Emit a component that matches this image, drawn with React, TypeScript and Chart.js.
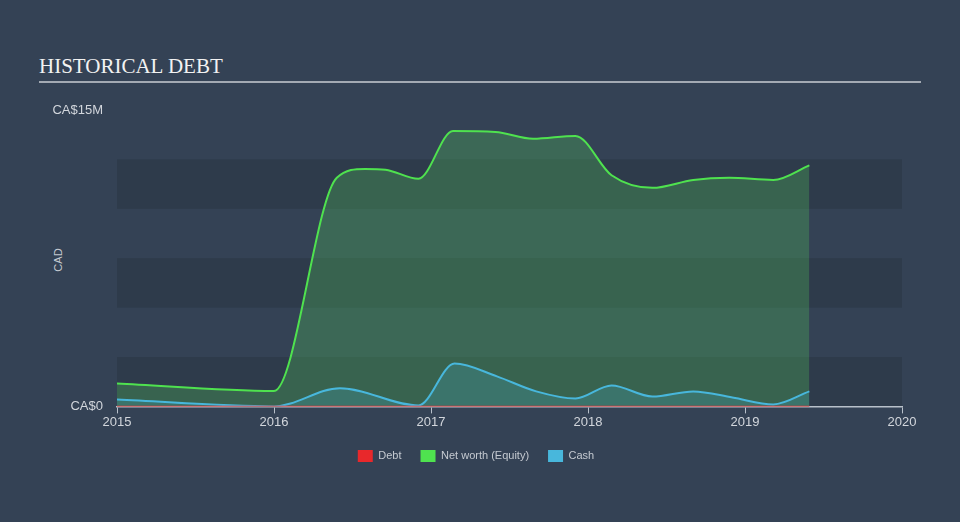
import React, { useEffect, useRef } from 'react';
import { Chart, registerables } from 'chart.js';

Chart.register(...registerables);

// ---- data (values in CA$ millions, x in fractional years) ----
const seriesNames = ['Debt', 'Net worth (Equity)', 'Cash'];

const debtYears = [2015.0, 2016.0, 2016.4, 2016.92, 2017.14, 2017.42, 2017.65, 2017.92, 2018.15, 2018.41, 2018.67, 2018.9, 2019.18, 2019.41];
const debtValues = [0, 0, 0, 0, 0, 0, 0, 0, 0, 0, 0, 0, 0, 0];

const equityYears = [2015.0, 2016.0, 2016.4, 2016.58, 2016.71, 2016.92, 2017.14, 2017.41, 2017.65, 2017.92, 2018.15, 2018.41, 2018.67, 2018.9, 2019.18, 2019.41];
const equityValues = [1.16, 0.78, 11.57, 12.02, 11.98, 11.52, 13.94, 13.89, 13.54, 13.69, 11.7, 11.06, 11.46, 11.57, 11.46, 12.2];

const cashYears = [2015.0, 2016.0, 2016.42, 2016.92, 2017.15, 2017.42, 2017.67, 2017.92, 2018.15, 2018.41, 2018.67, 2018.92, 2019.18, 2019.41];
const cashValues = [0.35, 0.0, 0.92, 0.05, 2.17, 1.52, 0.76, 0.4, 1.06, 0.5, 0.76, 0.45, 0.1, 0.76];

const xTickValues = [2015, 2016, 2017, 2018, 2019, 2020];
const yTickValues = [0, 15];
const yTickLabels = ['CA$0', 'CA$15M'];
const bandRanges = [[0, 2.5], [5, 7.5], [10, 12.5]];

// ---- styles ----
const PAGE_BG = '#344255';
const BAND_BG = '#2e3b4b';
const DEBT_COLOR = '#e8282b';
const EQUITY_COLOR = '#4fe24f';
const CASH_COLOR = '#48b7dc';
const TEXT_COLOR = '#d2d6dc';
const AXIS_COLOR = '#b8c0ca';
const legendColors = [DEBT_COLOR, EQUITY_COLOR, CASH_COLOR];

const toPoints = (xs: number[], ys: number[]) => xs.map((x, i) => ({ x, y: ys[i] }));

const bandPlugin = {
  id: 'bands',
  beforeDraw(chart: any) {
    const { ctx, chartArea, scales } = chart;
    const y = scales.y;
    ctx.save();
    ctx.fillStyle = BAND_BG;
    bandRanges.forEach(([a, b]) => {
      const top = y.getPixelForValue(b);
      const bottom = y.getPixelForValue(a);
      ctx.fillRect(chartArea.left, top, chartArea.right - chartArea.left, bottom - top);
    });
    ctx.restore();
  },
};

export default function App() {
  const ref = useRef<HTMLCanvasElement>(null);

  useEffect(() => {
    document.body.style.margin = '0';
    Chart.defaults.font.family = '"Liberation Sans", Arial, sans-serif';
    const chart = new Chart(ref.current as HTMLCanvasElement, {
      type: 'line',
      data: {
        datasets: [
          {
            label: seriesNames[0],
            data: toPoints(debtYears, debtValues),
            borderColor: DEBT_COLOR,
            backgroundColor: DEBT_COLOR,
            borderWidth: 1.5,
            fill: false,
            order: 0,
          },
          {
            label: seriesNames[1],
            data: toPoints(equityYears, equityValues),
            borderColor: EQUITY_COLOR,
            backgroundColor: 'rgba(79,192,88,0.3)',
            borderWidth: 2,
            fill: 'origin',
            order: 2,
          },
          {
            label: seriesNames[2],
            data: toPoints(cashYears, cashValues),
            borderColor: CASH_COLOR,
            backgroundColor: 'rgba(75,185,221,0.2)',
            borderWidth: 2,
            fill: 'origin',
            order: 1,
          },
        ],
      },
      options: {
        animation: false,
        responsive: false,
        maintainAspectRatio: false,
        layout: { padding: { left: 50, right: 58, top: 110, bottom: 50 } },
        elements: {
          point: { radius: 0, hoverRadius: 0 },
          line: { cubicInterpolationMode: 'monotone' },
        },
        plugins: {
          tooltip: { enabled: false },
          legend: {
            position: 'bottom',
            labels: {
              boxWidth: 15,
              boxHeight: 12,
              padding: 19,
              color: '#c5cad1',
              font: { size: 11 },
              sort: (a: any, b: any) => a.datasetIndex - b.datasetIndex,
              generateLabels: (chart: any) => {
                const items = Chart.defaults.plugins.legend.labels.generateLabels(chart);
                return items.map((it: any) => ({
                  ...it,
                  fillStyle: legendColors[it.datasetIndex],
                  strokeStyle: legendColors[it.datasetIndex],
                  lineWidth: 0,
                }));
              },
            },
          },
        },
        scales: {
          x: {
            type: 'linear',
            min: 2015,
            max: 2020,
            afterBuildTicks: (s: any) => {
              s.ticks = xTickValues.map((v) => ({ value: v }));
            },
            ticks: {
              callback: (v: any) => String(v),
              color: TEXT_COLOR,
              font: { size: 13 },
              padding: 1,
              maxRotation: 0,
              autoSkip: false,
            },
            grid: {
              display: true,
              drawOnChartArea: false,
              drawTicks: true,
              tickLength: 7,
              color: AXIS_COLOR,
              lineWidth: 1,
            },
            border: { display: true, color: AXIS_COLOR, width: 1.5 },
          },
          y: {
            type: 'linear',
            min: 0,
            max: 15,
            afterBuildTicks: (s: any) => {
              s.ticks = yTickValues.map((v) => ({ value: v }));
            },
            afterFit: (s: any) => {
              s.width = 67;
            },
            ticks: {
              callback: (v: any) => {
                const i = yTickValues.indexOf(Number(v));
                return i >= 0 ? yTickLabels[i] : '';
              },
              color: TEXT_COLOR,
              font: { size: 13 },
              padding: 14,
              autoSkip: false,
            },
            grid: { display: false, drawTicks: false },
            border: { display: false },
          },
        },
      },
      plugins: [bandPlugin],
    } as any);
    return () => chart.destroy();
  }, []);

  return (
    <div style={{ position: 'relative', width: 960, height: 522, background: PAGE_BG, overflow: 'hidden' }}>
      <div
        style={{
          position: 'absolute',
          left: 39,
          top: 56,
          fontFamily: '"Liberation Serif", "Times New Roman", serif',
          fontSize: 21,
          lineHeight: '21px',
          color: '#f2f2f2',
          whiteSpace: 'nowrap',
        }}
      >
        HISTORICAL DEBT
      </div>
      <div style={{ position: 'absolute', left: 39, top: 81, width: 882, height: 2, background: '#a3aab3' }} />
      <div
        style={{
          position: 'absolute',
          left: 28,
          top: 253,
          width: 60,
          height: 14,
          lineHeight: '14px',
          textAlign: 'center',
          fontFamily: '"Liberation Sans", Arial, sans-serif',
          fontSize: 11,
          color: '#c5cad1',
          transform: 'rotate(-90deg)',
        }}
      >
        CAD
      </div>
      <canvas ref={ref} width={960} height={522} style={{ position: 'absolute', left: 0, top: 0, width: 960, height: 522 }} />
    </div>
  );
}
